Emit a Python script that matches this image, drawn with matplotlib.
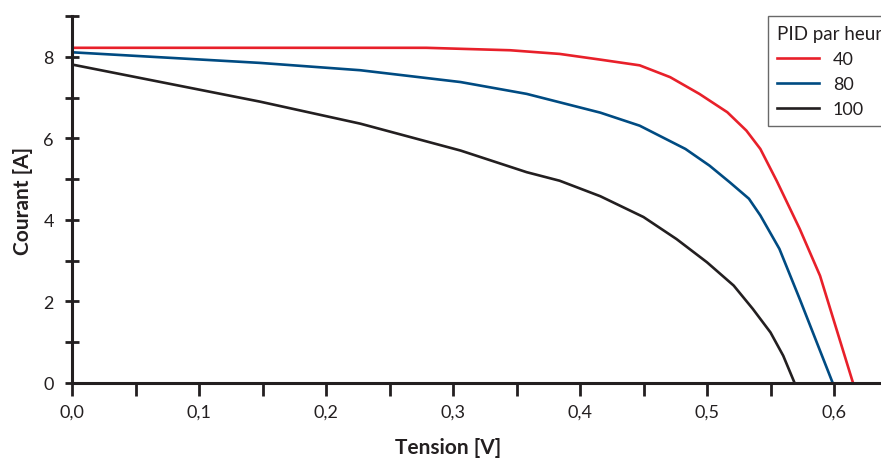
import numpy as np
import matplotlib
matplotlib.use("Agg")
import matplotlib.pyplot as plt
from matplotlib.ticker import MultipleLocator, FuncFormatter

# values (Tension [V], Courant [A])
v_40 = [0.0, 0.148, 0.279, 0.345, 0.384, 0.416, 0.447, 0.471, 0.494, 0.516, 0.531, 0.542,
        0.555, 0.573, 0.589, 0.615]
i_40 = [8.22, 8.22, 8.22, 8.16, 8.07, 7.93, 7.79, 7.50, 7.09, 6.64, 6.19, 5.74,
        4.95, 3.78, 2.63, 0.0]

v_80 = [0.0, 0.148, 0.227, 0.306, 0.358, 0.416, 0.447, 0.483, 0.502, 0.518, 0.533, 0.542,
        0.557, 0.573, 0.599]
i_80 = [8.11, 7.85, 7.67, 7.38, 7.09, 6.63, 6.31, 5.74, 5.33, 4.92, 4.52, 4.11,
        3.29, 2.06, 0.0]

v_100 = [0.0, 0.148, 0.227, 0.306, 0.358, 0.384, 0.416, 0.450, 0.476, 0.500, 0.521, 0.536,
         0.550, 0.560, 0.569]
i_100 = [7.81, 6.90, 6.36, 5.70, 5.17, 4.96, 4.58, 4.07, 3.53, 2.96, 2.39, 1.82,
         1.24, 0.67, 0.0]

labels = ["40", "80", "100"]
colors = ["#e8202a", "#004b82", "#231f20"]

plt.rcParams['font.family'] = ['Lato', 'DejaVu Sans']

fig = plt.figure(figsize=(8.81, 4.6), dpi=100)
ax = fig.add_axes([72/881, 1 - 384/460, 1 - 72/881, 367/460])

for v, i, lab, c in zip([v_40, v_80, v_100], [i_40, i_80, i_100], labels, colors):
    ax.plot(v, i, color=c, lw=1.9, label=lab, solid_joinstyle='round')

ax.set_xlim(0, (881 - 72) / 1270)
ax.set_ylim(0, 9)

for s in ['top', 'right']:
    ax.spines[s].set_visible(False)
for s in ['left', 'bottom']:
    ax.spines[s].set_linewidth(2.2)
    ax.spines[s].set_color('#231f20')

ax.xaxis.set_major_locator(MultipleLocator(0.1))
ax.xaxis.set_minor_locator(MultipleLocator(0.05))
ax.yaxis.set_major_locator(MultipleLocator(2))
ax.yaxis.set_minor_locator(MultipleLocator(1))
ax.xaxis.set_major_formatter(FuncFormatter(lambda x, p: f"{x:.1f}".replace('.', ',')))

ax.tick_params(axis='x', which='both', direction='out', length=9, width=2, color='#231f20',
               labelsize=13, pad=6, labelcolor='#231f20')
ax.tick_params(axis='y', which='both', direction='inout', length=10, width=2, color='#231f20',
               labelsize=13, pad=8, labelcolor='#231f20')

ax.set_xlabel("Tension [V]", fontsize=15, fontweight='bold', color='#231f20')
ax.set_ylabel("Courant [A]", fontsize=15, fontweight='bold', color='#231f20')
ax.xaxis.set_label_coords((448 - 72) / 809, -54 / 367)
ax.yaxis.set_label_coords((33 - 72) / 809, 0.5)

leg = fig.legend(loc='upper left', bbox_to_anchor=(768/881, 1 - 17/460), title="PID par heure",
                 fontsize=13, title_fontsize=13.5, frameon=True, fancybox=False,
                 handlelength=2.3, borderpad=0.5, labelspacing=0.5, borderaxespad=0)
leg._legend_box.align = "left"
leg.get_frame().set_edgecolor('#444444')
leg.get_frame().set_linewidth(1.0)
for t in leg.get_texts():
    t.set_color('#231f20')
leg.get_title().set_color('#231f20')

fig.savefig("out.png", dpi=100)
